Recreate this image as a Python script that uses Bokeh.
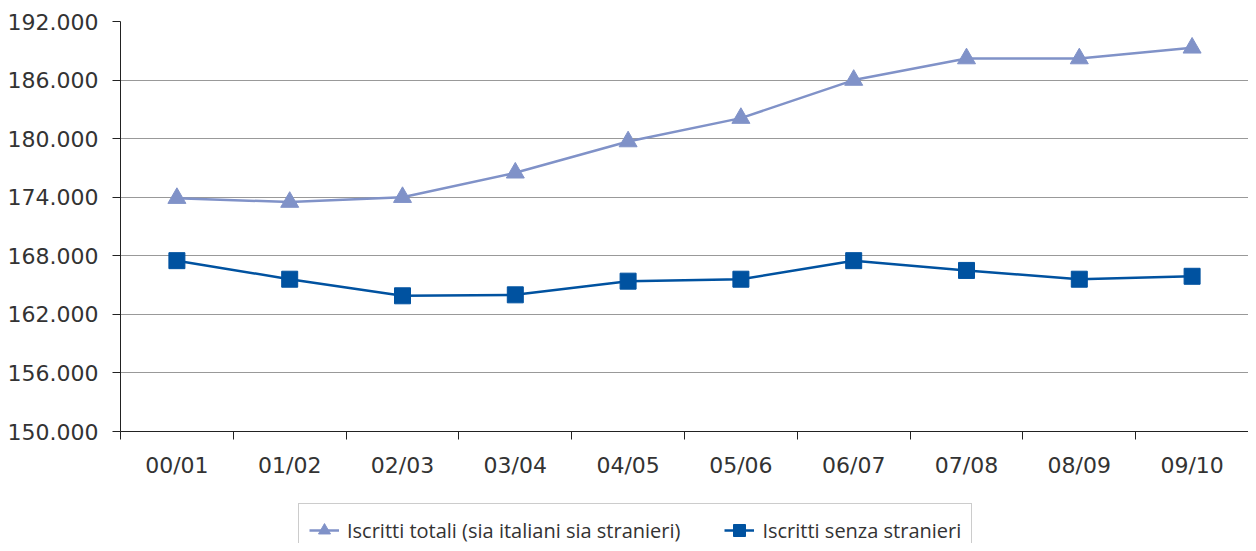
from bokeh.plotting import figure
from bokeh.layouts import column
from bokeh.models import FixedTicker, Legend, LegendItem
from bokeh.embed import file_html
from bokeh.resources import INLINE

categories = ["00/01", "01/02", "02/03", "03/04", "04/05", "05/06", "06/07", "07/08", "08/09", "09/10"]
totali = [173900, 173500, 174000, 176500, 179700, 182100, 186000, 188200, 188200, 189300]
senza = [167500, 165600, 163900, 164000, 165400, 165600, 167500, 166500, 165600, 165900]
y_ticks = [150000, 156000, 162000, 168000, 174000, 180000, 186000, 192000]
y_labels = ["150.000", "156.000", "162.000", "168.000", "174.000", "180.000", "186.000", "192.000"]
label_totali = "Iscritti totali (sia italiani sia stranieri)"
label_senza = "Iscritti senza stranieri"

FONT = "DejaVu Sans"
LFONT = "Open Sans"
TXT = "#333333"
C_TOT = "#8092c8"
C_SEN = "#0052a0"

xs = [i + 0.5 for i in range(len(categories))]

p = figure(width=1248, height=490, x_range=(0, len(categories)), y_range=(150000, 192000),
           output_backend="svg", toolbar_location=None,
           min_border_left=120, min_border_right=0, min_border_top=21, min_border_bottom=59)
p.outline_line_color = None
p.background_fill_color = "white"

# x axis: labels at category centers, ticks at category boundaries (minor ticks)
p.xaxis.ticker = FixedTicker(ticks=xs, minor_ticks=list(range(len(categories) + 1)))
p.xaxis.major_label_overrides = {x: c for x, c in zip(xs, categories)}
p.xaxis.major_tick_line_color = None
p.xaxis.major_tick_out = 8
p.xaxis.major_tick_in = 0
p.xaxis.minor_tick_in = 0
p.xaxis.minor_tick_out = 8
p.xaxis.minor_tick_line_color = "#222222"
p.xaxis.axis_line_color = "#222222"
p.xaxis.major_label_standoff = 13
p.xaxis.major_label_text_font = FONT
p.xaxis.major_label_text_font_size = "22px"
p.xaxis.major_label_text_color = TXT

p.yaxis.ticker = FixedTicker(ticks=y_ticks, minor_ticks=[])
p.yaxis.major_label_overrides = {t: l for t, l in zip(y_ticks, y_labels)}
p.yaxis.major_tick_in = 0
p.yaxis.major_tick_out = 8
p.yaxis.major_tick_line_color = "#222222"
p.yaxis.axis_line_color = "#222222"
p.yaxis.major_label_standoff = 14
p.yaxis.major_label_text_font = FONT
p.yaxis.major_label_text_font_size = "22px"
p.yaxis.major_label_text_color = TXT

p.xgrid.grid_line_color = None
p.ygrid.ticker = FixedTicker(ticks=y_ticks)
p.ygrid.grid_line_color = "#999999"
p.ygrid.grid_line_width = 1.2

p.line(xs, totali, line_color=C_TOT, line_width=2.5)
p.scatter(xs, totali, marker="triangle", size=18, fill_color=C_TOT, line_color=C_TOT)
p.line(xs, senza, line_color=C_SEN, line_width=2.5)
p.scatter(xs, senza, marker="square", size=16, fill_color=C_SEN, line_color=C_SEN)

# legend strip below the chart; its renderers carry the same series, which fall
# outside this strip's ranges, so only the legend glyphs are visible
q = figure(width=1248, height=53, x_range=(0, len(categories)), y_range=(0, 1),
           output_backend="svg", toolbar_location=None,
           x_axis_type=None, y_axis_type=None, min_border=0)
q.outline_line_color = None
q.grid.visible = False
ql1 = q.line(xs, totali, line_color=C_TOT, line_width=2.5)
qs1 = q.scatter(xs, totali, marker="triangle", size=18, fill_color=C_TOT, line_color=C_TOT)
ql2 = q.line(xs, senza, line_color=C_SEN, line_width=2.5)
qs2 = q.scatter(xs, senza, marker="square", size=16, fill_color=C_SEN, line_color=C_SEN)

legend = Legend(items=[LegendItem(label=label_totali, renderers=[ql1, qs1]),
                       LegendItem(label=label_senza, renderers=[ql2, qs2])],
                orientation="horizontal", location=(178, -14),
                padding=10, spacing=44, label_height=32, glyph_height=32, glyph_width=30,
                label_standoff=8,
                label_text_font=LFONT, label_text_font_size="20px", label_text_color=TXT,
                border_line_color="#999999", border_line_width=1.2,
                background_fill_alpha=1.0, margin=0)
q.add_layout(legend, "center")

layout = column(p, q, spacing=0)
open("out.html", "w").write(file_html(layout, INLINE))
